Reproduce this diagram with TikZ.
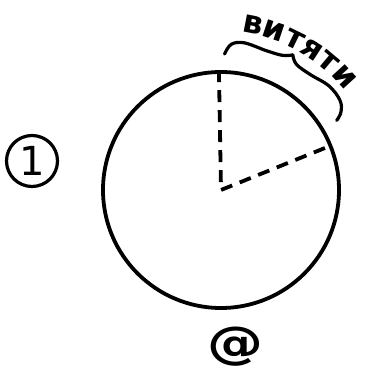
\documentclass[tikz,border=0pt]{standalone}
\usepackage{fontspec}
\newfontfamily\hand{DejaVu Sans}
\usetikzlibrary{calc}
\tikzset{
  ink/.style={line width=3.8pt, line cap=round, line join=round},
  dashline/.style={line width=3.8pt, dash pattern=on 12pt off 8pt},
  ring/.style={circle, draw, line width=3.2pt, inner sep=0pt},
  letter/.style={inner sep=0pt, font={\hand\bfseries\fontsize{32}{32}\selectfont}},
}
\begin{document}
\begin{tikzpicture}[x=1pt,y=1pt]
\useasboundingbox (0,0) rectangle (369,372);
\coordinate (C) at (221,182);
\node[circle, draw, ink, minimum size=236pt, inner sep=0pt] (pie) at (C) {};
\draw[dashline] (pie.91.5) -- (pie.center) -- (pie.22.4);
% brace
\begin{scope}[shift={(C)}]
\draw[line width=3.2pt, line cap=round] plot[smooth, tension=0.6] coordinates
  {(88.5:136) (86:146) (81:149) (72:146.5) (65.5:148) (62:153)};
\draw[line width=3.2pt, line cap=round] plot[smooth, tension=0.6] coordinates
  {(62:153) (59:146.5) (52:146) (44:150) (37:149) (33:143) (31:135)};
% curved label, one letter at a time
\node[letter, rotate=-11]   (l1) at (79:168) {в};
\node[letter, rotate=-18.5] (l2) at (71.5:168) {и};
\node[letter, rotate=-26]   (l3) at (64:167) {т};
\node[letter, rotate=-33]   (l4) at (57:167) {я};
\node[letter, rotate=-40]   (l5) at (50:167) {т};
\node[letter, rotate=-47.5] (l6) at (42.5:168) {и};
\end{scope}
\node[ring, minimum size=51pt, font={\hand\fontsize{40}{40}\selectfont}] (one) at (32,211) {1};
\node[font={\hand\bfseries\fontsize{56}{56}\selectfont}, yscale=0.8, inner sep=0pt] (at) at (235,25) {@};
\end{tikzpicture}
\end{document}
